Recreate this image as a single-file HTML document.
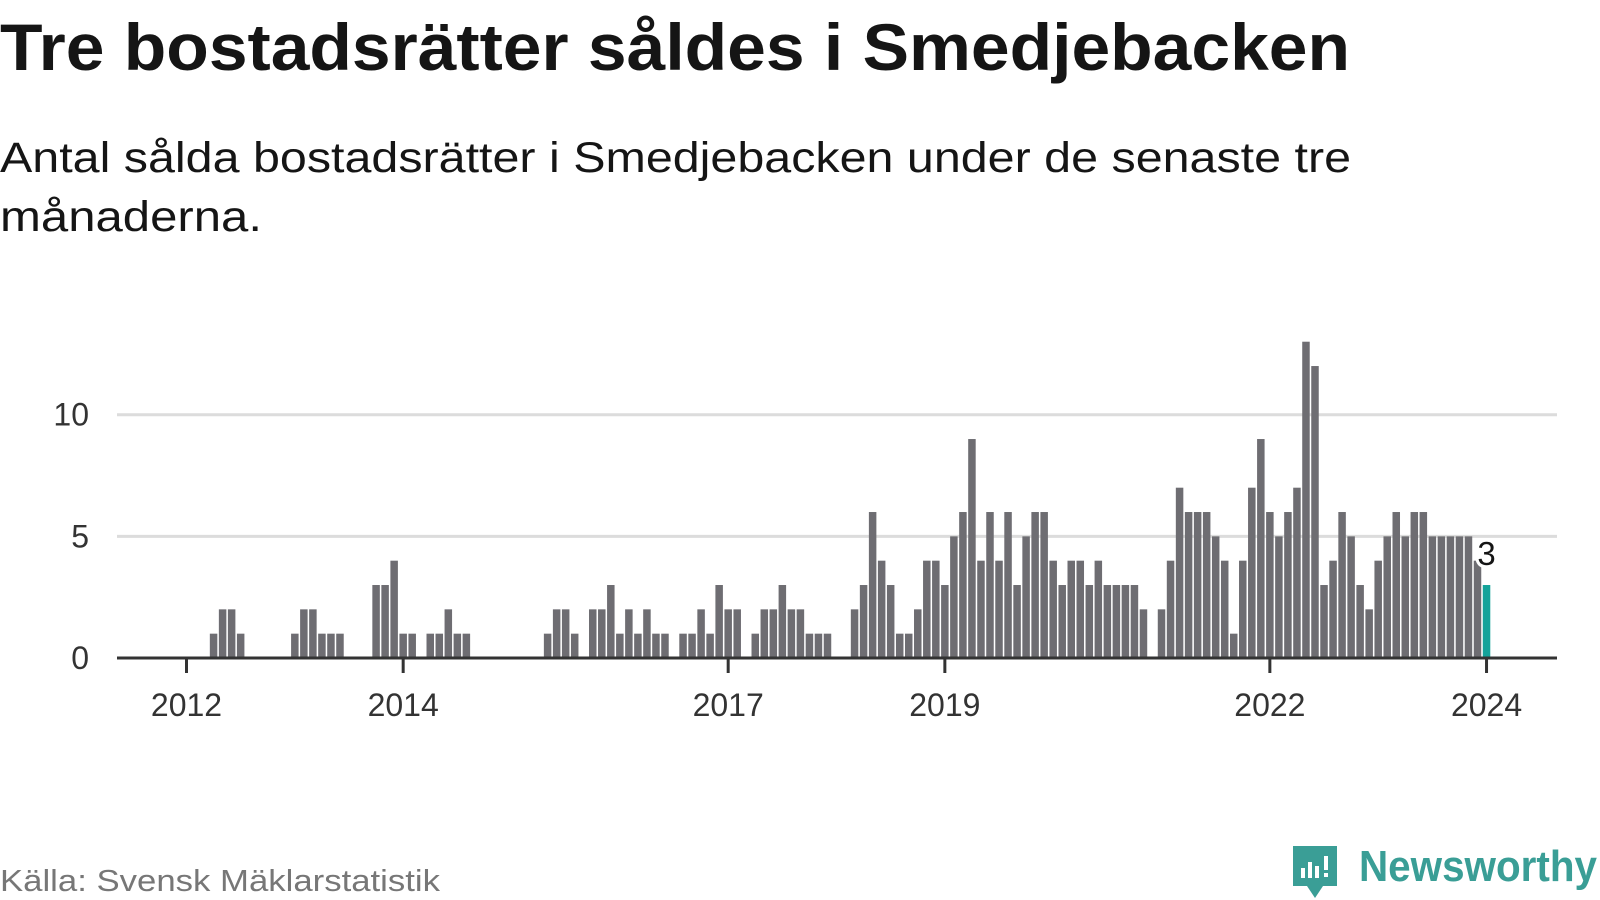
<!DOCTYPE html>
<html><head><meta charset="utf-8"><style>
html,body{margin:0;padding:0;background:#fff;}
svg{display:block;font-family:"Liberation Sans",sans-serif;}
</style></head><body>
<svg id="chart" width="1600" height="900" viewBox="0 0 1600 900">
<text x="0" y="70" font-size="66" font-weight="bold" fill="#151515" textLength="1350" lengthAdjust="spacingAndGlyphs">Tre bostadsrätter såldes i Smedjebacken</text>
<text x="0" y="172" font-size="43" fill="#151515" textLength="1351" lengthAdjust="spacingAndGlyphs">Antal sålda bostadsrätter i Smedjebacken under de senaste tre</text>
<text x="0" y="231" font-size="43" fill="#151515" textLength="262" lengthAdjust="spacingAndGlyphs">månaderna.</text>
<g id="grid"></g>
<g id="bars"></g>
<g id="axis"></g>
<text x="0" y="891" font-size="31" fill="#777" textLength="440" lengthAdjust="spacingAndGlyphs">Källa: Svensk Mäklarstatistik</text>
<g>
<path d="M1293 846 h44 v40 h-14 l-8 12 l-8 -12 h-14 z" fill="#3a9e96"/>
<rect x="1301" y="868" width="4" height="10" fill="#fff"/>
<rect x="1308" y="862" width="4" height="16" fill="#fff"/>
<rect x="1315" y="866" width="4" height="12" fill="#fff"/>
<rect x="1324" y="856" width="4" height="14" fill="#fff"/>
<rect x="1324" y="873" width="4" height="4" fill="#fff"/>
<text x="1359" y="881" font-size="44" font-weight="bold" fill="#3a9e96" textLength="238" lengthAdjust="spacingAndGlyphs">Newsworthy</text>
</g>
</svg>
<script>
const values = [0,0,0,1,2,2,1,0,0,0,0,0, 1,2,2,1,1,1,0,0,0,3,3,4, 1,1,0,1,1,2,1,1,0,0,0,0, 0,0,0,0,1,2,2,1,0,2,2,3, 1,2,1,2,1,1,0,1,1,2,1,3, 2,2,0,1,2,2,3,2,2,1,1,1, 0,0,2,3,6,4,3,1,1,2,4,4, 3,5,6,9,4,6,4,6,3,5,6,6, 4,3,4,4,3,4,3,3,3,3,2,0, 2,4,7,6,6,6,5,4,1,4,7,9, 6,5,6,7,13,12,3,4,6,5,3,2, 4,5,6,5,6,6,5,5,5,5,5,4, 3];
const yTicks = [0,5,10];
const xTickYears = [2012,2014,2017,2019,2022,2024];
const startYear = 2012;
const lastLabel = "3";

const NS="http://www.w3.org/2000/svg";
const x0=186.5, perMonth=9.028, y0=658, perUnit=24.33;
const xScale = i => x0 + i*perMonth;
const yScale = v => y0 - v*perUnit;
function mk(tag, attrs, parent){const e=document.createElementNS(NS,tag);for(const k in attrs)e.setAttribute(k,attrs[k]);parent.appendChild(e);return e;}
const grid=document.getElementById('grid'), bars=document.getElementById('bars'), axis=document.getElementById('axis'), svg=document.getElementById('chart');
yTicks.forEach(t=>{
  if(t>0){const l=mk('line',{x1:117,x2:1557,y1:yScale(t),y2:yScale(t),stroke:'#dcdcdc','stroke-width':3},grid);
  
  }
  const tx=mk('text',{x:89,y:yScale(t)+11,'font-size':32,fill:'#333','text-anchor':'end'},grid);
  tx.textContent=t;
  
  
});
values.forEach((v,i)=>{
  if(v<=0)return;
  const last=i===values.length-1;
  const r=mk('rect',{x:xScale(i)-3.75,y:yScale(v),width:7.5,height:v*perUnit,fill:last?'#14a39a':'#6e6d72'},bars);
  
  
});
const ax=mk('line',{x1:117,x2:1557,y1:y0,y2:y0,stroke:'#333','stroke-width':3},axis);


xTickYears.forEach(yr=>{
  const x=xScale((yr-startYear)*12);
  const t=mk('line',{x1:x,x2:x,y1:y0,y2:y0+15,stroke:'#333','stroke-width':3},axis);
  
  
  const tx=mk('text',{x:x,y:716,'font-size':32,fill:'#333','text-anchor':'middle'},axis);
  tx.textContent=yr;
  
  
});
const li=values.length-1;
const lbl=mk('text',{x:xScale(li),y:yScale(values[li])-20,'font-size':33,fill:'#151515','text-anchor':'middle',stroke:'#fff','stroke-width':6,'paint-order':'stroke'},svg);
lbl.textContent=lastLabel;


</script>
</body></html>
